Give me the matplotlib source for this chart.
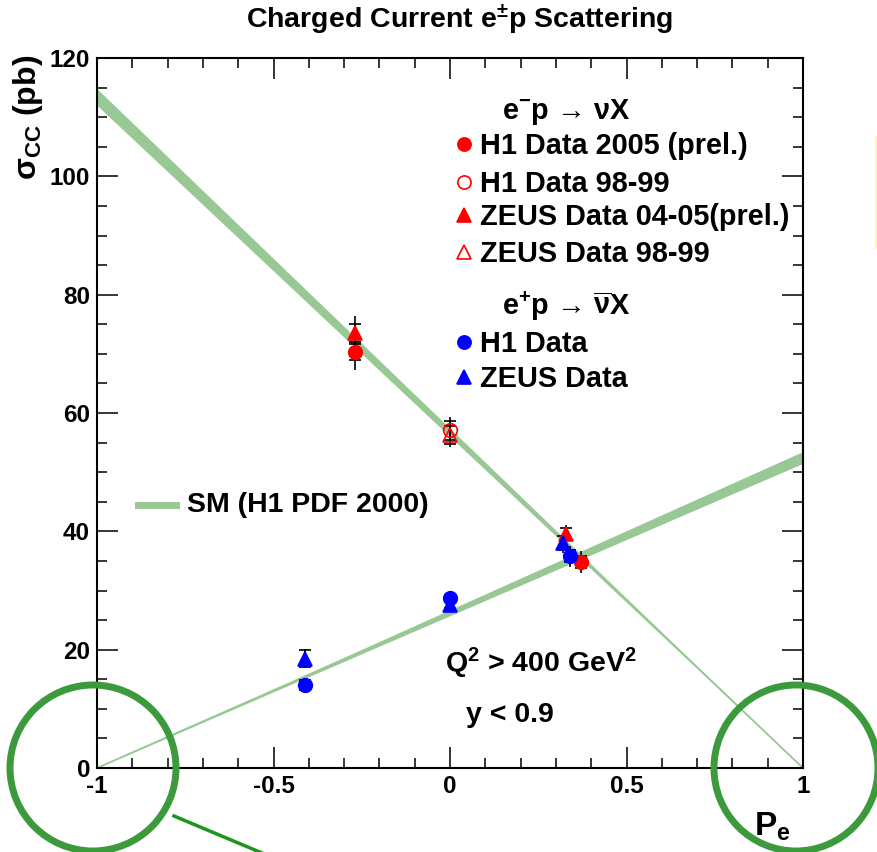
import numpy as np
import matplotlib
matplotlib.use("Agg")
import matplotlib.pyplot as plt
from matplotlib.lines import Line2D
from matplotlib.patches import Ellipse

plt.rcParams['font.family'] = ['Liberation Sans', 'DejaVu Sans']
plt.rcParams['font.weight'] = 'bold'
plt.rcParams['mathtext.default'] = 'regular'
plt.rcParams['axes.unicode_minus'] = False

# SM prediction band end points (P_e = -1 and +1)
sm_P = [-1.0, 1.0]
sm_em = [113.4, 0.0]      # e-p
sm_em_err = [1.4, 0.0]
sm_ep = [0.0, 52.5]       # e+p
sm_ep_err = [0.0, 1.0]

# e-p data
h1_05_P = [-0.27, 0.37]
h1_05_s = [70.3, 34.8]
h1_05_stat = [1.4, 1.0]
h1_05_tot = [3.1, 1.8]

zeus_05_P = [-0.27, 0.33]
zeus_05_s = [73.5, 39.5]
zeus_05_stat = [1.5, 1.0]
zeus_05_tot = [2.9, 1.5]

h1_98_P = [0.0]
h1_98_s = [57.1]
h1_98_stat = [1.6]
h1_98_tot = [2.3]

zeus_98_P = [0.0]
zeus_98_s = [56.3]
zeus_98_stat = [1.5]
zeus_98_tot = [2.0]

# e+p data
h1_pos_P = [-0.41, 0.0, 0.34]
h1_pos_s = [14.0, 28.7, 35.8]
h1_pos_stat = [0.8, 0.6, 1.0]
h1_pos_tot = [1.0, 0.8, 1.8]

zeus_pos_P = [-0.41, 0.0, 0.32]
zeus_pos_s = [18.5, 27.6, 38.0]
zeus_pos_stat = [1.4, 0.6, 1.2]
zeus_pos_tot = [1.6, 0.7, 1.6]

W, H = 877, 852
fig = plt.figure(figsize=(W / 100, H / 100), dpi=100)
ax = fig.add_axes([97 / W, 1 - 768 / H, (803 - 97) / W, (768 - 58) / H])

band = '#98c893'
for val, err in [(sm_em, sm_em_err), (sm_ep, sm_ep_err)]:
    v = np.array(val); e = np.array(err)
    ax.fill_between(sm_P, v - e, v + e, color=band, lw=0, zorder=1)
    ax.plot(sm_P, v, color=band, lw=1.3, zorder=1)

sets = [
    (h1_05_P, h1_05_s, h1_05_stat, h1_05_tot, 'o', 'red', 'red'),
    (zeus_05_P, zeus_05_s, zeus_05_stat, zeus_05_tot, '^', 'red', 'red'),
    (h1_98_P, h1_98_s, h1_98_stat, h1_98_tot, 'o', 'none', 'red'),
    (zeus_98_P, zeus_98_s, zeus_98_stat, zeus_98_tot, '^', 'none', 'red'),
    (h1_pos_P, h1_pos_s, h1_pos_stat, h1_pos_tot, 'o', 'blue', 'blue'),
    (zeus_pos_P, zeus_pos_s, zeus_pos_stat, zeus_pos_tot, '^', 'blue', 'blue'),
]
for P, s, st, tot, m, fc, ec in sets:
    ax.errorbar(P, s, yerr=tot, fmt='none', ecolor='black', elinewidth=1.2, zorder=3)
    ax.errorbar(P, s, yerr=st, fmt='none', ecolor='black', elinewidth=1.2,
                capsize=4.5, capthick=1.2, zorder=3)
    ax.plot(P, s, ls='none', marker=m, ms=9.8, mfc=fc, mec=ec, mew=1.2, zorder=4)

ax.set_xlim(-1, 1)
ax.set_ylim(0, 120)
ax.set_xticks([-1, -0.5, 0, 0.5, 1])
ax.set_xticklabels(['-1', '-0.5', '0', '0.5', '1'])
ax.set_xticks(np.arange(-1, 1.01, 0.1), minor=True)
ax.set_yticks(np.arange(0, 121, 20))
ax.set_yticks(np.arange(0, 121, 5), minor=True)
ax.tick_params(which='both', direction='in', top=True, right=True, width=1.1)
ax.tick_params(which='major', length=15, pad=5)
ax.tick_params(which='minor', length=7.5)
for lab in ax.get_xticklabels() + ax.get_yticklabels():
    lab.set_family(['Liberation Sans Narrow', 'Liberation Sans'])
    lab.set_fontsize(17.5)
for sp in ax.spines.values():
    sp.set_linewidth(1.5)

fig.text(459 / W, 1 - 20 / H, 'Charged Current e$^{\\pm}$p Scattering',
         ha='center', va='center', fontsize=20.5)
fig.text(28 / W, 1 - 117 / H, '$\\sigma_{CC}$ (pb)', rotation=90,
         ha='center', va='center', fontsize=23)
fig.text(772 / W, 1 - 827 / H, 'P$_{e}$', ha='center', va='center', fontsize=24)

# legend
def fx(px):
    return px / W

def fy(py):
    return 1 - py / H

fs = 20.8
fig.text(fx(502), fy(112), 'e$^{-}$p \u2192 \u03bdX', ha='left', va='center', fontsize=fs)
fig.text(fx(502), fy(306), 'e$^{+}$p \u2192 $\\overline{\u03bd}$X', ha='left', va='center', fontsize=fs)
leg = [
    (146, 'o', 'red', 'red', 'H1 Data 2005 (prel.)'),
    (184, 'o', 'none', 'red', 'H1 Data 98-99'),
    (217, '^', 'red', 'red', 'ZEUS Data 04-05(prel.)'),
    (254, '^', 'none', 'red', 'ZEUS Data 98-99'),
    (344, 'o', 'blue', 'blue', 'H1 Data'),
    (379, '^', 'blue', 'blue', 'ZEUS Data'),
]
for py, m, fc, ec, lab in leg:
    fig.add_artist(Line2D([fx(464)], [fy(py - 2)], marker=m, ms=9.5, mfc=fc, mec=ec,
                          mew=1.2, ls='none', transform=fig.transFigure))
    fig.text(fx(480), fy(py), lab, ha='left', va='center', fontsize=fs)

fig.add_artist(Line2D([fx(138), fx(176)], [fy(505), fy(505)], color=band, lw=5,
                      transform=fig.transFigure))
fig.text(fx(187), fy(505), 'SM (H1 PDF 2000)', ha='left', va='center', fontsize=20.5)

fig.text(fx(445), fy(663), 'Q$^{2}$ > 400 GeV$^{2}$', ha='left', va='center', fontsize=20.5)
fig.text(fx(466), fy(715), 'y < 0.9', ha='left', va='center', fontsize=20.5)

# slide annotations
ring = '#3c9a3c'
fig.add_artist(Ellipse((fx(93), fy(768)), 166 / W, 166 / H, fill=False, ec=ring, lw=5,
                       transform=fig.transFigure))
fig.add_artist(Ellipse((fx(796), fy(768)), 164 / W, 166 / H, fill=False, ec=ring, lw=5,
                       transform=fig.transFigure))
fig.add_artist(Line2D([fx(174), fx(262)], [fy(816), fy(853)], color='#1e961e', lw=2.5,
                      transform=fig.transFigure))
fig.add_artist(Line2D([fx(876), fx(876)], [fy(137), fy(248)], color='#fff7a8', lw=1.2,
                      transform=fig.transFigure))

fig.savefig('out.png', dpi=100)
